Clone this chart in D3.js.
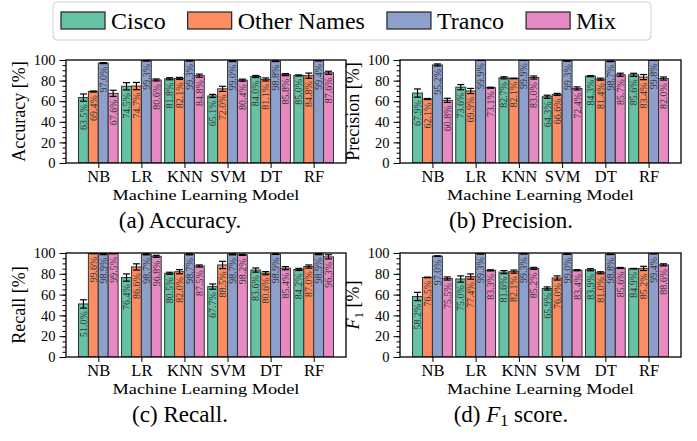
<!DOCTYPE html>
<html>
<head>
<meta charset="utf-8">
<script src="https://cdn.jsdelivr.net/npm/d3@7"></script>
<style>
  body { margin: 0; background: #fff; }
  text { font-family: "Liberation Serif", serif; }
</style>
</head>
<body>
<div id="chart"></div>
<script>
const models = ["NB", "LR", "KNN", "SVM", "DT", "RF"];
const sources = ["Cisco", "Other Names", "Tranco", "Mix"];
const colors = ["#66c2a5", "#fc8d62", "#8da0cb", "#e78ac3"];

// one row per model, one column per source
const accuracy = [
  [63.5, 69.4, 97.0, 67.6],
  [74.5, 74.7, 99.3, 80.6],
  [81.8, 82.1, 99.3, 84.8],
  [65.1, 72.0, 99.0, 80.4],
  [84.0, 81.1, 98.8, 85.8],
  [85.0, 84.8, 99.4, 87.6]
];
const accuracyErr = [
  [3.5, 0.5, 0.5, 3.0],
  [3.5, 3.5, 0.3, 1.0],
  [1.0, 1.0, 0.3, 1.5],
  [1.5, 2.5, 0.5, 1.0],
  [1.0, 1.5, 0.3, 1.0],
  [0.5, 2.5, 0.3, 1.5]
];

const precision = [
  [67.9, 62.1, 95.2, 60.8],
  [73.6, 69.9, 99.9, 73.1],
  [82.7, 82.1, 99.9, 83.0],
  [64.3, 66.6, 99.3, 72.4],
  [84.3, 81.4, 98.7, 85.7],
  [85.6, 83.4, 99.8, 82.0]
];
const precisionErr = [
  [4.0, 0.5, 1.0, 2.0],
  [2.5, 2.5, 0.1, 0.5],
  [1.0, 0.3, 0.1, 1.5],
  [1.5, 1.0, 0.5, 1.5],
  [0.5, 1.0, 0.3, 1.5],
  [1.5, 2.5, 0.1, 1.5]
];

const recall = [
  [51.0, 99.6, 98.9, 99.5],
  [76.4, 86.6, 98.7, 96.8],
  [80.5, 82.0, 98.7, 87.5],
  [67.7, 88.5, 98.7, 98.2],
  [83.6, 80.6, 98.9, 85.4],
  [84.2, 87.0, 98.9, 96.3]
];
const recallErr = [
  [4.0, 0.3, 0.5, 0.3],
  [3.5, 3.0, 0.5, 1.0],
  [1.0, 2.0, 0.5, 1.0],
  [2.5, 3.5, 0.5, 0.5],
  [2.0, 1.5, 0.3, 1.5],
  [1.0, 1.5, 0.5, 2.0]
];

const f1 = [
  [58.2, 76.5, 97.0, 75.5],
  [75.0, 77.4, 99.3, 83.3],
  [81.6, 82.1, 99.3, 85.2],
  [65.9, 76.0, 99.0, 83.4],
  [83.9, 81.0, 98.8, 85.6],
  [84.9, 85.2, 99.4, 88.6]
];
const f1Err = [
  [4.0, 0.3, 0.3, 1.5],
  [3.0, 2.5, 0.3, 0.5],
  [1.5, 1.5, 0.3, 1.0],
  [1.5, 2.0, 0.3, 0.5],
  [1.0, 1.0, 0.3, 0.5],
  [0.3, 2.0, 0.3, 1.0]
];

const yMajor = [0, 20, 40, 60, 80, 100];
const yMinor = d3.range(0, 101, 5);

const W = 697, H = 441;
const svg = d3.select("#chart").append("svg")
  .attr("width", W)
  .attr("height", H);

const panels = [
  { id: "a", values: accuracy, errs: accuracyErr, ylabel: "Accuracy [%]", caption: "(a) Accuracy.",
    left: 66, right: 346, top: 60, bottom: 163, capX: 180, capY: 228 },
  { id: "b", values: precision, errs: precisionErr, ylabel: "Precision [%]", caption: "(b) Precision.",
    left: 400, right: 681, top: 60, bottom: 163, capX: 511, capY: 228 },
  { id: "c", values: recall, errs: recallErr, ylabel: "Recall [%]", caption: "(c) Recall.",
    left: 66, right: 346, top: 253, bottom: 357, capX: 180, capY: 422 },
  { id: "d", values: f1, errs: f1Err, ylabel: null, caption: null,
    left: 400, right: 681, top: 253, bottom: 357, capX: 511, capY: 422 }
];

const barW = 0.23;

panels.forEach(p => {
  const x = d3.scaleLinear().domain([-0.75, 5.75]).range([p.left, p.right]);
  const y = d3.scaleLinear().domain([0, 100]).range([p.bottom, p.top]);
  const g = svg.append("g");

  g.append("clipPath").attr("id", "clip-" + p.id)
    .append("rect")
    .attr("x", p.left).attr("y", p.top)
    .attr("width", p.right - p.left).attr("height", p.bottom - p.top);

  // flatten to one record per bar
  const bars = [];
  models.forEach((m, i) => {
    sources.forEach((s, j) => {
      bars.push({ i, j, value: p.values[i][j], err: p.errs[i][j] });
    });
  });

  const plot = g.append("g").attr("clip-path", "url(#clip-" + p.id + ")");

  plot.selectAll("rect.bar")
    .data(bars)
    .join("rect")
    .attr("class", "bar")
    .attr("x", d => x(d.i + (d.j - 2) * barW))
    .attr("width", x(barW) - x(0))
    .attr("y", d => y(d.value))
    .attr("height", d => y(0) - y(d.value))
    .attr("fill", d => colors[d.j])
    .attr("stroke", "#333")
    .attr("stroke-width", 1);

  // error bars
  const cx = d => x(d.i + (d.j - 1.5) * barW);
  const eb = plot.append("g").attr("stroke", "#000").attr("stroke-width", 1.2);
  eb.selectAll("line.v").data(bars).join("line").attr("class", "v")
    .attr("x1", cx).attr("x2", cx)
    .attr("y1", d => y(d.value - d.err)).attr("y2", d => y(d.value + d.err));
  eb.selectAll("line.t").data(bars).join("line").attr("class", "t")
    .attr("x1", d => cx(d) - 3.5).attr("x2", d => cx(d) + 3.5)
    .attr("y1", d => y(d.value + d.err)).attr("y2", d => y(d.value + d.err));
  eb.selectAll("line.b").data(bars).join("line").attr("class", "b")
    .attr("x1", d => cx(d) - 3.5).attr("x2", d => cx(d) + 3.5)
    .attr("y1", d => y(d.value - d.err)).attr("y2", d => y(d.value - d.err));

  // value labels inside the bars
  g.selectAll("text.val")
    .data(bars)
    .join("text")
    .attr("class", "val")
    .attr("transform", d => `translate(${cx(d)},${y(d.value - d.err) + 3}) rotate(-90)`)
    .attr("text-anchor", "end")
    .attr("dy", "0.35em")
    .attr("font-size", 10)
    .attr("fill", "#333")
    .text(d => d.value.toFixed(1) + "%");

  // minor and major y ticks
  g.append("g")
    .attr("transform", `translate(${p.left},0)`)
    .call(d3.axisLeft(y).tickValues(yMinor).tickSize(3.5).tickFormat(""))
    .call(a => a.select(".domain").remove());
  const yAxis = g.append("g")
    .attr("transform", `translate(${p.left},0)`)
    .call(d3.axisLeft(y).tickValues(yMajor).tickSize(6.5).tickPadding(4));
  yAxis.select(".domain").remove();
  yAxis.selectAll("text")
    .attr("font-family", "Liberation Serif")
    .attr("font-size", 14.5)
    .attr("fill", "#000");

  const xAxis = g.append("g")
    .attr("transform", `translate(0,${p.bottom})`)
    .call(d3.axisBottom(x).tickValues(d3.range(models.length)).tickFormat(i => models[i]).tickSize(5).tickPadding(2));
  xAxis.select(".domain").remove();
  xAxis.selectAll("text")
    .attr("font-family", "Liberation Serif")
    .attr("font-size", 16.5)
    .attr("fill", "#000");

  // frame
  g.append("rect")
    .attr("x", p.left).attr("y", p.top)
    .attr("width", p.right - p.left).attr("height", p.bottom - p.top)
    .attr("fill", "none")
    .attr("stroke", "#000")
    .attr("stroke-width", 1.3);

  // x label (slightly widened like the reference)
  g.append("text")
    .attr("transform", `translate(${(p.left + p.right) / 2},${p.bottom + 37}) scale(1.18,1)`)
    .attr("text-anchor", "middle")
    .attr("font-size", 15.5)
    .text("Machine Learning Model");

  // y label
  const yl = g.append("text")
    .attr("transform", `translate(${p.left - 41},${(p.top + p.bottom) / 2}) rotate(-90)`)
    .attr("text-anchor", "middle")
    .attr("font-size", 18);
  if (p.ylabel) {
    yl.text(p.ylabel);
  } else {
    yl.append("tspan").attr("font-style", "italic").text("F");
    yl.append("tspan").attr("font-size", 13).attr("dy", 4).text("1");
    yl.append("tspan").attr("dy", -4).text(" [%]");
  }

  // caption
  const cap = g.append("text")
    .attr("x", p.capX)
    .attr("y", p.capY)
    .attr("text-anchor", "middle")
    .attr("font-size", 23);
  if (p.caption) {
    cap.text(p.caption);
  } else {
    cap.append("tspan").text("(d) ");
    cap.append("tspan").attr("font-style", "italic").text("F");
    cap.append("tspan").attr("font-size", 16).attr("dy", 4).text("1");
    cap.append("tspan").attr("dy", -4).text(" score.");
  }
});

// legend
const legend = svg.append("g");
legend.append("rect")
  .attr("x", 53).attr("y", 2)
  .attr("width", 598).attr("height", 38)
  .attr("rx", 4)
  .attr("fill", "#fff")
  .attr("stroke", "#d0d0d0");

let lx = 61;
sources.forEach((s, j) => {
  legend.append("rect")
    .attr("x", lx).attr("y", 12)
    .attr("width", 44).attr("height", 17)
    .attr("fill", colors[j])
    .attr("stroke", "#222")
    .attr("stroke-width", 1.2);
  const t = legend.append("text")
    .attr("x", lx + 50)
    .attr("y", 29)
    .attr("font-size", 24)
    .text(s);
  lx += 50 + t.node().getComputedTextLength() + 22;
});
</script>
</body>
</html>
